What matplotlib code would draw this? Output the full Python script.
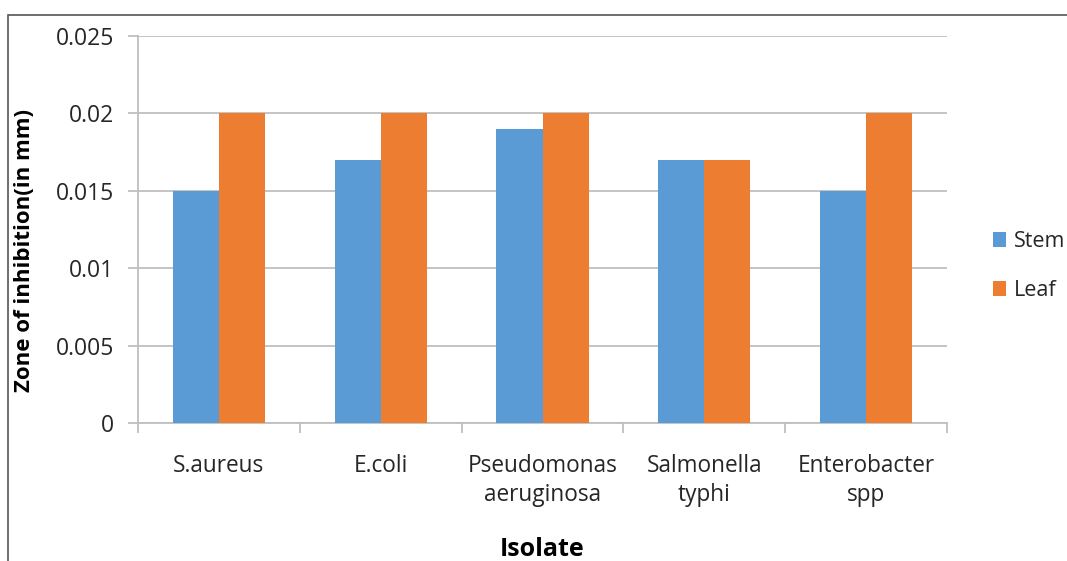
import matplotlib.pyplot as plt
from matplotlib.patches import Rectangle
import numpy as np

plt.rcParams['font.family'] = ['Open Sans', 'DejaVu Sans']

isolates = ['S.aureus', 'E.coli', 'Pseudomonas\naeruginosa', 'Salmonella\ntyphi', 'Enterobacter\nspp']
stem = [0.015, 0.017, 0.019, 0.017, 0.015]
leaf = [0.020, 0.020, 0.020, 0.017, 0.020]
yticks = [0, 0.005, 0.01, 0.015, 0.02, 0.025]
ytick_labels = ['0', '0.005', '0.01', '0.015', '0.02', '0.025']

blue = '#5B9BD5'
orange = '#ED7D31'
grid = '#BFBFBF'
text = '#262626'

fig = plt.figure(figsize=(10.67, 5.61), dpi=100)
# outer chart border (top and left edges visible)
fig.patches.append(Rectangle((8 / 1067, -0.1), 1.2, 1 - 15 / 561 + 0.1, transform=fig.transFigure,
                             fill=False, edgecolor='#555555', linewidth=1.2))

ax = fig.add_axes([138 / 1067, 1 - 423 / 561, (947 - 138) / 1067, (423 - 36) / 561])
x = np.arange(len(isolates))
w = 0.285
ax.bar(x - w / 2, stem, w, color=blue, label='Stem', zorder=3)
ax.bar(x + w / 2, leaf, w, color=orange, label='Leaf', zorder=3)

ax.set_xlim(-0.5, len(isolates) - 0.5)
ax.set_ylim(0, 0.025)
ax.set_yticks(yticks)
ax.set_yticklabels(ytick_labels, fontsize=16.5, color=text)
ax.yaxis.grid(True, color=grid, linewidth=1.3, zorder=0)
ax.tick_params(axis='y', length=7, color=grid, width=1.3, pad=10)

ax.set_xticks(np.arange(-0.5, len(isolates)), labels=[''] * (len(isolates) + 1))
ax.set_xticks(x, labels=isolates, minor=True)
ax.tick_params(axis='x', which='major', length=7, color=grid, width=1.3)
ax.tick_params(axis='x', which='minor', length=0, pad=22, labelsize=16.3, labelcolor=text)
for lbl in ax.get_xticklabels(minor=True):
    lbl.set_linespacing(1.3)

for side in ['top', 'right']:
    ax.spines[side].set_visible(False)
for side in ['left', 'bottom']:
    ax.spines[side].set_color(grid)
    ax.spines[side].set_linewidth(1.3)

ax.set_ylabel('Zone of inhibition(in mm)', fontsize=16, fontweight='bold', color='black')
ax.yaxis.set_label_coords(-103 / 809, 0.447)
fig.text(542 / 1067, 1 - 549 / 561, 'Isolate', fontsize=18, fontweight='bold', ha='center', va='center')

ax.legend(loc='center left', bbox_to_anchor=(982 / 1067, 1 - 266 / 561), bbox_transform=fig.transFigure,
          frameon=False, fontsize=15.5, handlelength=0.6, handleheight=0.7, handletextpad=0.4,
          labelspacing=1.3, labelcolor=text, borderpad=0)

fig.savefig('out.png', dpi=100)
